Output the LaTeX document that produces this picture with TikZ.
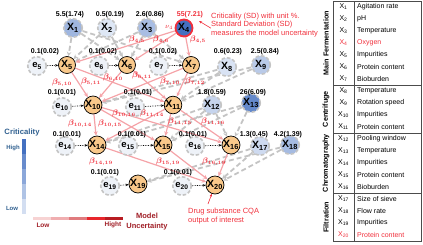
\documentclass[tikz,border=0pt]{standalone}
\usepackage{fontspec}
\setmainfont{Liberation Sans}
\usetikzlibrary{positioning,calc,arrows.meta,backgrounds}
\definecolor{nodeOrange}{HTML}{F9C88A}
\definecolor{eFill}{HTML}{EEF2F8}
\definecolor{ringGray}{HTML}{C4C4C4}
\definecolor{edgePink}{HTML}{F5A3A8}
\definecolor{betaRed}{HTML}{F0303C}
\definecolor{critBlue}{HTML}{2F5F8F}
\definecolor{critHi}{HTML}{4470C0}
\definecolor{critLo}{HTML}{E6EDF8}
\definecolor{uncRed}{HTML}{A01E26}
\definecolor{uncA}{HTML}{F7D3D3}
\definecolor{uncB}{HTML}{F0AEB0}
\definecolor{uncC}{HTML}{E07B7E}
\definecolor{uncD}{HTML}{E8262C}
\definecolor{uncE}{HTML}{B81C22}

\tikzset{
  xnode/.style={circle, draw=black, line width=0.7pt, fill=nodeOrange,
    minimum size=17pt, inner sep=0pt, font=\fontsize{10.5}{11}\selectfont\bfseries},
  enode/.style={circle, draw=ringGray, line width=1.6pt, dash pattern=on 3.5pt off 2pt,
    fill=eFill, minimum size=18.5pt, inner sep=0pt, font=\fontsize{9.5}{10}\selectfont\bfseries},
  bnode/.style={enode, font=\fontsize{10.5}{11}\selectfont\bfseries},
  numlbl/.style={font=\fontsize{7}{8}\selectfont\bfseries, inner sep=0pt},
  blbl/.style={font=\fontsize{7.6}{8}\selectfont\boldmath, text=betaRed, inner sep=0pt},
  redge/.style={draw=edgePink, line width=1.2pt, -{Stealth[length=4.5pt,width=4pt]}},
  gedge/.style={draw=ringGray, line width=1.8pt, dash pattern=on 5pt off 3pt,
    -{Stealth[length=4.5pt,width=4.5pt]}},
  dotarr/.style={densely dotted, line width=0.7pt, -{Stealth[length=3pt,width=2.5pt]}},
  note/.style={font=\fontsize{7.5}{8.5}\selectfont, text=betaRed, align=left, inner sep=0pt},
  notearr/.style={draw=betaRed, line width=0.6pt, -{Stealth[length=3pt,width=2.5pt]}},
  critlbl/.style={font=\fontsize{6}{7}\selectfont\bfseries, text=critBlue, inner sep=0pt},
  unclbl/.style={font=\fontsize{6.5}{7}\selectfont\bfseries, text=uncRed, inner sep=0pt},
  tabline/.style={draw=black!70, line width=0.5pt},
  tabtxt/.style={font=\fontsize{7}{8}\selectfont, inner sep=0pt},
  grplbl/.style={font=\fontsize{7.2}{8}\selectfont\bfseries, inner sep=0pt}
}

\begin{document}
\begin{tikzpicture}[x=1pt,y=-1pt]
\useasboundingbox (0,0) rectangle (423,244);

% --- PARAMETERS ---
\def\tL{333}   % table left
\def\tM{354}   % table column split
\def\tR{421}   % table right
\def\rowH{12}  % table row height

% --- INPUT NODES (blue, shade = criticality) ---
\foreach \n/\px/\py/\c in {1/73/28/44, 2/107/28/5, 3/147/28/38, 8/227/67/8,
    9/261/65/28, 12/212/105/20, 13/251/103/80, 17/260/146/15, 18/290/145/40} {
  \node[bnode, fill=critHi!\c!critLo] (X\n) at (\px,\py) {X\textsubscript{\n}};
}
\node[xnode, fill=critHi, draw=betaRed, line width=1.8pt] (X4) at (184,28) {X\textsubscript{4}};

% --- PROCESS NODES (orange) ---
\foreach \n/\px/\py in {5/67/65, 6/127/65, 7/191/65, 10/93/105, 11/173/105,
    14/97/145, 15/163/145, 16/231/145, 19/138/184, 20/215/185} {
  \node[xnode] (X\n) at (\px,\py) {X\textsubscript{\n}};
}

% --- NOISE NODES + dotted inputs ---
\foreach \n/\px/\py in {5/37/66, 6/99/66, 7/159/66, 10/62/107, 11/135/107,
    14/65/146, 15/128/146, 16/195/146, 19/110/186, 20/182/186} {
  \node[enode] (e\n) at (\px,\py) {e\textsubscript{\n}};
  \draw[dotarr] (e\n) -- (X\n);
}

% --- VALUE LABELS: criticality(SD) ---
\foreach \k/\px/\py/\txt in {1/70/15/5.5(1.74), 2/110/15/0.5(0.19), 3/150/15/2.6(0.86),
    5/45/52/0.1(0.02), 6/103/52/0.1(0.02), 7/163/52/0.1(0.02), 8/228/52/0.6(0.23), 9/265/52/2.5(0.84),
    10/62/92.5/0.1(0.01), 11/138/92.5/0.1(0.01), 12/212/92.5/1.8(0.59), 13/253/92.5/26(6.09),
    14/67/135/0.1(0.01), 15/132/135/0.1(0.01), 16/193/135/0.1(0.01), 17/254/135/1.3(0.45), 18/288/135/4.2(1.39),
    19/105/173/0.1(0.01), 20/178/173/0.1(0.01)} {
  \node[numlbl] (v\k) at (\px,\py) {\txt};
}
\node[numlbl, text=betaRed] (v4) at (190,15) {55(7.21)};
\node[blbl, font=\fontsize{7.5}{8}\selectfont] (nu4) at (169,27) {$\nu_4$};

% --- EDGES (behind nodes) ---
\begin{pgfonlayer}{background}
  \foreach \a/\b in {1/5,1/6,1/7,2/5,2/6,3/5,3/6,3/7, 8/10,8/11,9/10,9/11,
      12/14,12/15,12/16,13/14,13/15,13/16, 17/19,17/20,18/19,18/20} {
    \draw[gedge] (X\a) -- (X\b);
  }
  \foreach \a/\b in {4/5,4/6,4/7, 5/10,5/11,6/10,6/11,7/10,7/11,
      10/14,10/15,10/16,11/14,11/15,11/16, 14/20,15/20,16/20} {
    \draw[redge] (X\a) -- (X\b);
  }
\end{pgfonlayer}

% --- EDGE COEFFICIENTS ---
\foreach \i/\j/\px/\py in {4/5/137/40, 4/6/161/40, 5/10/62/83, 5/11/91/82,
    6/10/113/78, 6/11/142/76, 7/10/170/82, 7/12/195/82,
    10/14/80/124, 10/15/110/124, 10/16/124/114, 11/14/152/114, 11/15/180/122, 11/16/213/122,
    14/19/101/162, 15/19/168/162, 16/19/214/162} {
  \node[blbl] (b\i-\j) at (\px,\py) {$\beta_{\i,\j}$};
}
\node[blbl] (b4-5r) at (198,40) {$\beta_{4,5}$};

% --- ANNOTATIONS ---
\node[note, anchor=west] (nCrit) at (211,24.7)
  {Criticality (SD) with unit \%.\\Standard Deviation (SD)\\measures the model uncertainty};
\coordinate (aCrit) at (199,21);
\draw[notearr] ([yshift=-3.5pt]nCrit.west) -- (aCrit);
\node[note, anchor=west, font=\fontsize{7.5}{9}\selectfont] (nDrug) at (188,216.5)
  {Drug substance CQA\\output of interest};
\coordinate (aDrug) at (208,204);
\draw[notearr] (aDrug) -- (X20.250);

% --- CRITICALITY BAR ---
\node[critlbl, font=\fontsize{7.7}{8}\selectfont\bfseries] (critT) at (22,133) {Criticality};
\foreach \k in {0,...,4} {
  \pgfmathsetmacro\val{int(100-\k*22)}
  \fill[critHi!\val!critLo] (22,139+\k*15) rectangle (25.5,154+\k*15);
}
\node[critlbl] (critH) at (13,148) {High};
\node[critlbl] (critL) at (12,208) {Low};

% --- UNCERTAINTY BAR ---
\foreach \k/\c in {0/uncA,1/uncB,2/uncC,3/uncD,4/uncE} {
  \fill[\c] (33+\k*18,216.5) rectangle (51+\k*18,219.8);
}
\node[unclbl] (uncL) at (43,225) {Low};
\node[unclbl] (uncH) at (113,224.5) {Hight};
\node[unclbl, align=center, font=\fontsize{7.5}{10.5}\selectfont\bfseries] (uncT) at (147,221.5)
  {Model\\Uncertainty};

% --- TABLE GRID ---
\draw[tabline] (\tL,1) rectangle (\tR,241);
\draw[tabline] (\tM,1) -- (\tM,241);
\foreach \yy in {85,133,193} {
  \draw[tabline] (\tL,\yy) -- (\tR,\yy);
}

% --- TABLE ROWS ---
\foreach \i/\c/\desc in {1/black/Agitation rate, 2/black/pH, 3/black/Temperature,
    4/betaRed/Oxygen, 5/black/Impurities, 6/black/Protein content, 7/black/Bioburden,
    8/black/Temperature, 9/black/Rotation speed, 10/black/Impurities, 11/black/Protein content,
    12/black/Pooling window, 13/black/Temperature, 14/black/Impurities, 15/black/Protein content,
    16/black/Bioburden, 17/black/Size of sieve, 18/black/Flow rate, 19/black/Impurities,
    20/betaRed/Protein content} {
  \node[tabtxt, text=\c] (tx\i) at (343.5,\rowH*\i-5) {X\textsubscript{\i}};
  \node[tabtxt, text=\c, anchor=west] (td\i) at (357,\rowH*\i-5) {\desc};
}

% --- TABLE GROUPS ---
\foreach \g/\yy/\txt in {mf/43/Main Fermentation, cf/109/Centrifuge,
    ch/163/Chromatography, fl/217/Filtration} {
  \node[grplbl, rotate=90] (g\g) at (326,\yy) {\txt};
}

\end{tikzpicture}
\end{document}
